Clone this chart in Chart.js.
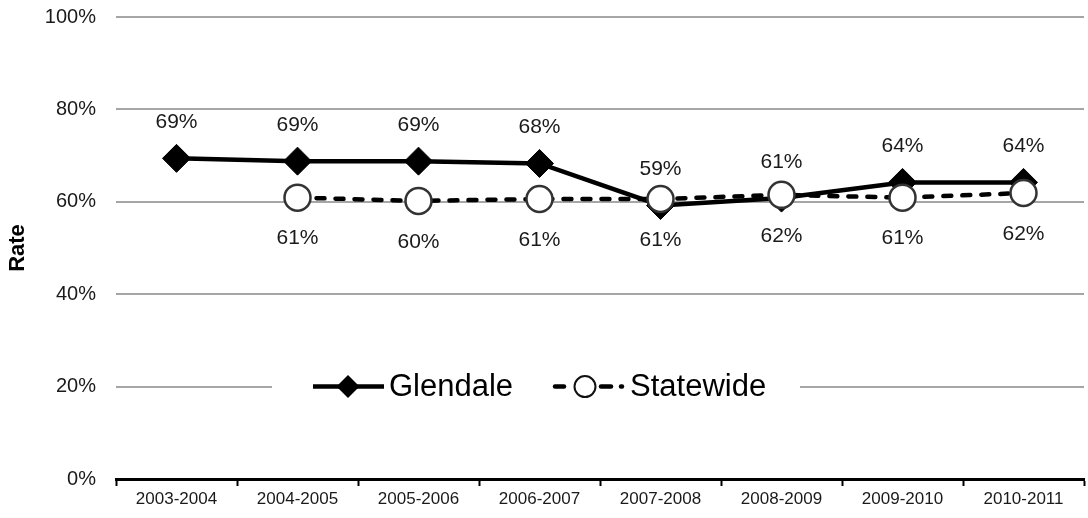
<!DOCTYPE html>
<html>
<head>
<meta charset="utf-8">
<script src="https://cdn.jsdelivr.net/npm/chart.js@4/dist/chart.umd.min.js"></script>
<style>
  html, body { margin: 0; padding: 0; background: #fff; overflow: hidden; }
  #wrap { width: 1088px; height: 518px; overflow: hidden; }
  canvas { display: block; }
</style>
</head>
<body>
<div id="wrap"><canvas id="c" width="1088" height="518" style="width:1088px;height:518px"></canvas></div>
<script>
const categories = ["2003-2004","2004-2005","2005-2006","2006-2007","2007-2008","2008-2009","2009-2010","2010-2011"];
const glendale = [69.4, 68.8, 68.8, 68.3, 59.2, 60.8, 64.2, 64.2];
const statewide = [null, 60.9, 60.2, 60.6, 60.6, 61.5, 60.9, 61.9];
const seriesNames = ["Glendale", "Statewide"];
const yTicks = [0, 20, 40, 60, 80, 100];
const yTitle = "Rate";

const FONT = "Arial, 'Liberation Sans', sans-serif";

const dataLabels = {
  id: 'dataLabels',
  afterDatasetsDraw(chart) {
    const ctx = chart.ctx;
    ctx.save();
    ctx.font = "21px " + FONT;
    ctx.fillStyle = "#1a1a1a";
    ctx.textAlign = "center";
    ctx.textBaseline = "middle";
    chart.data.datasets.forEach((ds, di) => {
      const meta = chart.getDatasetMeta(di);
      meta.data.forEach((pt, i) => {
        const v = ds.data[i];
        if (v === null || v === undefined) return;
        const txt = Math.round(v) + "%";
        const y = di === 0 ? pt.y - 36 : pt.y + 41;
        ctx.fillText(txt, pt.x, y);
      });
    });
    ctx.restore();
  }
};

const insideLegend = {
  id: 'insideLegend',
  afterDraw(chart) {
    const ctx = chart.ctx;
    const ys = chart.scales.y;
    const cy = ys.getPixelForValue(20);
    const left = 272;
    ctx.save();
    ctx.fillStyle = "#fff";
    ctx.fillRect(left, cy - 24, 800 - left, 48);
    // Glendale sample
    ctx.strokeStyle = "#000";
    ctx.lineWidth = 4.5;
    ctx.setLineDash([]);
    ctx.beginPath(); ctx.moveTo(313, cy); ctx.lineTo(384, cy); ctx.stroke();
    ctx.fillStyle = "#000";
    ctx.beginPath();
    ctx.moveTo(348, cy - 11.5); ctx.lineTo(359.5, cy); ctx.lineTo(348, cy + 11.5); ctx.lineTo(336.5, cy); ctx.closePath(); ctx.fill();
    ctx.font = "31px " + FONT;
    ctx.textBaseline = "middle";
    ctx.textAlign = "left";
    ctx.fillText(seriesNames[0], 389, cy + 1);
    // Statewide sample
    ctx.lineWidth = 4.5;
    ctx.lineCap = "round";
    const segs = [[555, 564], [601, 611], [621, 622]];
    segs.forEach(s => { ctx.beginPath(); ctx.moveTo(s[0], cy); ctx.lineTo(s[1], cy); ctx.stroke(); });
    ctx.fillStyle = "#fff";
    ctx.strokeStyle = "#111";
    ctx.lineWidth = 2;
    ctx.beginPath(); ctx.arc(585, cy, 10.5, 0, Math.PI * 2); ctx.fill(); ctx.stroke();
    ctx.fillStyle = "#000";
    ctx.fillText(seriesNames[1], 630, cy + 1);
    ctx.restore();
  }
};

new Chart(document.getElementById('c'), {
  type: 'line',
  data: {
    labels: categories,
    datasets: [
      {
        label: seriesNames[0],
        data: glendale,
        borderColor: "#000",
        backgroundColor: "#000",
        borderWidth: 4.5,
        pointStyle: 'rectRot',
        pointRadius: 14,
        pointBorderWidth: 1,
        pointBackgroundColor: "#000",
        pointBorderColor: "#000",
        tension: 0,
        clip: false,
        order: 1
      },
      {
        label: seriesNames[1],
        data: statewide,
        borderColor: "#000",
        borderWidth: 4.5,
        borderDash: [8, 11],
        borderCapStyle: 'round',
        pointStyle: 'circle',
        pointRadius: 13,
        pointBorderWidth: 2.5,
        pointBackgroundColor: "#fff",
        pointBorderColor: "#333",
        tension: 0,
        clip: false,
        order: 0
      }
    ]
  },
  options: {
    responsive: false,
    animation: false,
    devicePixelRatio: 1,
    layout: { autoPadding: false, padding: { top: 17, right: 4, left: 0, bottom: 0 } },
    plugins: {
      legend: { display: false },
      tooltip: { enabled: false }
    },
    scales: {
      x: {
        type: 'category',
        offset: true,
        grid: {
          offset: true,
          drawOnChartArea: false,
          drawTicks: true,
          tickLength: 7,
          tickColor: "#000",
          tickWidth: 2
        },
        border: { display: true, color: "#000", width: 3 },
        ticks: {
          color: "#1a1a1a",
          font: { family: FONT, size: 17 },
          padding: 3,
          maxRotation: 0,
          autoSkip: false
        },
        afterFit(s) { s.height = 39; s.paddingLeft = 0; s.paddingRight = 0; }
      },
      y: {
        min: 0,
        max: 100,
        afterBuildTicks(s) { s.ticks = yTicks.map(v => ({ value: v })); },
        grid: {
          color: (c) => c.tick && c.tick.value === 0 ? "rgba(0,0,0,0)" : "#a6a6a6",
          lineWidth: 2,
          drawTicks: false
        },
        border: { display: false },
        ticks: {
          color: "#1a1a1a",
          font: { family: FONT, size: 20 },
          padding: 20,
          callback: (v) => v + "%"
        },
        title: {
          display: true,
          text: yTitle,
          color: "#000",
          font: { family: FONT, size: 22, weight: 'bold' },
          padding: { top: 5, bottom: 0 }
        },
        afterFit(s) { s.width = 116; s.paddingTop = 0; s.paddingBottom = 0; }
      }
    }
  },
  plugins: [dataLabels, insideLegend]
});
</script>
</body>
</html>
